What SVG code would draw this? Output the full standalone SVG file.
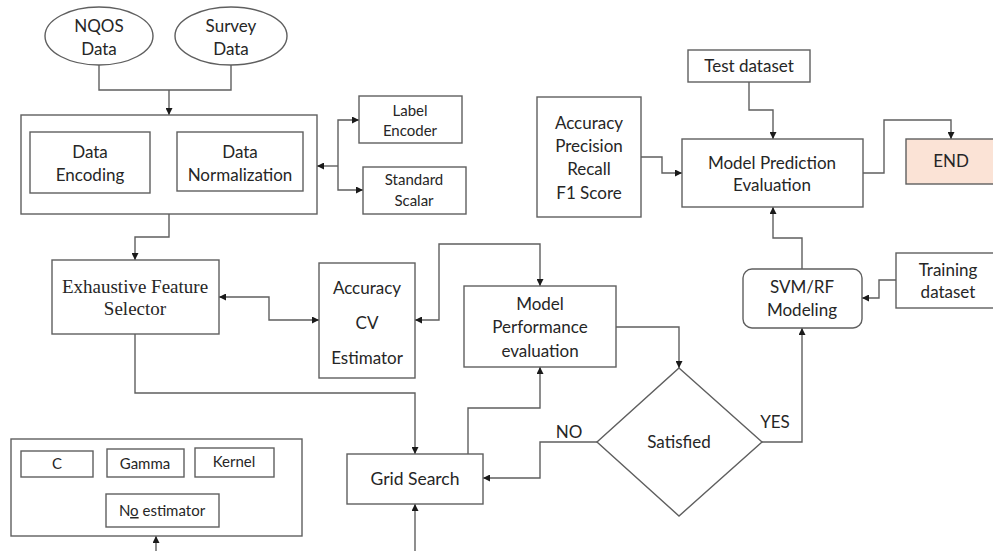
<svg xmlns="http://www.w3.org/2000/svg" width="993" height="551" viewBox="0 0 993 551">
  <style>
    .box { fill: #ffffff; stroke: #5f5f5f; stroke-width: 1.4; }
    .end { fill: #fbe3d6; stroke: #5f5f5f; stroke-width: 1.4; }
    .wire { fill: none; stroke: #5f5f5f; stroke-width: 1.4; }
    text { font-family: Lato, "Open Sans", "Liberation Sans", sans-serif; font-size: 17px; fill: #262626; text-anchor: middle; }
    .sm { font-size: 15px; }
    .serif { font-family: "Liberation Serif", "Times New Roman", serif; font-size: 19px; }
  </style>
  <defs>
    <marker id="arrow" viewBox="0 0 8 8" refX="8" refY="4" markerWidth="7" markerHeight="7" markerUnits="userSpaceOnUse" orient="auto-start-reverse">
      <path d="M0,0 L8,4 L0,8 z" fill="#1a1a1a"/>
    </marker>
  </defs>

  <rect width="993" height="551" fill="#ffffff"/>

  <!-- connectors -->
  <g id="connectors">
    <path class="wire" d="M99,65 V90 H231 V65"/>
    <path class="wire" d="M169,90 V115" marker-end="url(#arrow)"/>
    <path class="wire" d="M150,162 H177" marker-end="url(#arrow)"/>
    <path class="wire" d="M338,166 H317" marker-end="url(#arrow)"/>
    <path class="wire" d="M338,166 V120 H359" marker-end="url(#arrow)"/>
    <path class="wire" d="M338,166 V190 H363" marker-end="url(#arrow)"/>
    <path class="wire" d="M169,214 V237 H135 V260" marker-end="url(#arrow)"/>
    <path class="wire" d="M219,297 H269 V320 H319" marker-start="url(#arrow)" marker-end="url(#arrow)"/>
    <path class="wire" d="M540,286 V244 H439 V320 H415" marker-start="url(#arrow)" marker-end="url(#arrow)"/>
    <path class="wire" d="M135,334 V393 H415 V454" marker-end="url(#arrow)"/>
    <path class="wire" d="M468,454 V408 H540 V367" marker-end="url(#arrow)"/>
    <path class="wire" d="M616,327 H679 V368" marker-end="url(#arrow)"/>
    <path class="wire" d="M597,442 H540 V478 H483" marker-end="url(#arrow)"/>
    <path class="wire" d="M762,442 H802 V328" marker-end="url(#arrow)"/>
    <path class="wire" d="M802,269 V238 H773 V207" marker-end="url(#arrow)"/>
    <path class="wire" d="M896,280 H879 V298 H862" marker-end="url(#arrow)"/>
    <path class="wire" d="M749,82 V110 H773 V139" marker-end="url(#arrow)"/>
    <path class="wire" d="M641,157 H662 V173 H682" marker-end="url(#arrow)"/>
    <path class="wire" d="M863,173 H884 V120 H951 V139" marker-end="url(#arrow)"/>
    <path class="wire" d="M415,551 V504" marker-end="url(#arrow)"/>
    <path class="wire" d="M156,551 V536" marker-end="url(#arrow)"/>
  </g>

  <!-- data sources -->
  <g id="nqos">
    <ellipse class="box" cx="99" cy="36" rx="54" ry="29"/>
    <text x="99" y="32">NQOS</text>
    <text x="99" y="55">Data</text>
  </g>
  <g id="survey">
    <ellipse class="box" cx="231" cy="36" rx="56" ry="29"/>
    <text x="231" y="32">Survey</text>
    <text x="231" y="55">Data</text>
  </g>

  <!-- preprocessing block -->
  <g id="preprocessing">
    <rect class="box" x="21" y="115" width="296" height="99"/>
  </g>
  <g id="data-encoding">
    <rect class="box" x="30" y="132" width="120" height="61"/>
    <text x="90" y="158">Data</text>
    <text x="90" y="181">Encoding</text>
  </g>
  <g id="data-normalization">
    <rect class="box" x="177" y="132" width="126" height="59"/>
    <text x="240" y="158">Data</text>
    <text x="240" y="181">Normalization</text>
  </g>
  <g id="label-encoder">
    <rect class="box" x="359" y="96" width="103" height="47"/>
    <text class="sm" x="410" y="116">Label</text>
    <text class="sm" x="410" y="136">Encoder</text>
  </g>
  <g id="standard-scalar">
    <rect class="box" x="363" y="167" width="103" height="47"/>
    <text class="sm" x="414" y="185">Standard</text>
    <text class="sm" x="414" y="206">Scalar</text>
  </g>

  <!-- feature selection -->
  <g id="feature-selector">
    <rect class="box" x="52" y="260" width="167" height="74"/>
    <text class="serif" x="135" y="293">Exhaustive Feature</text>
    <text class="serif" x="135" y="315">Selector</text>
  </g>
  <g id="accuracy-cv">
    <rect class="box" x="319" y="263" width="96" height="115"/>
    <text x="367" y="294">Accuracy</text>
    <text x="367" y="329">CV</text>
    <text x="367" y="364">Estimator</text>
  </g>
  <g id="model-performance">
    <rect class="box" x="464" y="286" width="152" height="81"/>
    <text x="540" y="310">Model</text>
    <text x="540" y="333">Performance</text>
    <text x="540" y="357">evaluation</text>
  </g>

  <!-- hyper-parameter grid -->
  <g id="parameters">
    <rect class="box" x="11" y="439" width="291" height="97"/>
  </g>
  <g id="param-c">
    <rect class="box" x="21" y="451" width="72" height="26"/>
    <text class="sm" x="57" y="469">C</text>
  </g>
  <g id="param-gamma">
    <rect class="box" x="107" y="449" width="77" height="28"/>
    <text class="sm" x="145" y="469">Gamma</text>
  </g>
  <g id="param-kernel">
    <rect class="box" x="195" y="448" width="79" height="29"/>
    <text class="sm" x="234" y="467">Kernel</text>
  </g>
  <g id="param-estimator">
    <rect class="box" x="106" y="494" width="113" height="33"/>
    <text class="sm" x="162" y="516">N<tspan text-decoration="underline">o</tspan> estimator</text>
  </g>
  <g id="grid-search">
    <rect class="box" x="347" y="454" width="136" height="50"/>
    <text x="415" y="485" style="font-size:17.5px">Grid Search</text>
  </g>

  <!-- decision -->
  <g id="satisfied">
    <polygon class="box" points="679,368 762,442 679,516 597,442"/>
    <text x="679" y="448">Satisfied</text>
  </g>
  <g id="labels">
    <text x="569" y="438">NO</text>
    <text x="775" y="428">YES</text>
  </g>

  <!-- modelling and evaluation -->
  <g id="svm-rf">
    <rect class="box" x="743" y="269" width="119" height="59" rx="9" ry="9"/>
    <text x="802" y="293">SVM/RF</text>
    <text x="802" y="316">Modeling</text>
  </g>
  <g id="training-dataset">
    <rect class="box" x="896" y="253" width="105" height="55"/>
    <text x="948" y="276">Training</text>
    <text x="948" y="298">dataset</text>
  </g>
  <g id="test-dataset">
    <rect class="box" x="688" y="50" width="122" height="32"/>
    <text x="749" y="72">Test dataset</text>
  </g>
  <g id="metrics">
    <rect class="box" x="537" y="97" width="104" height="120"/>
    <text x="589" y="129">Accuracy</text>
    <text x="589" y="152">Precision</text>
    <text x="589" y="175">Recall</text>
    <text x="589" y="199">F1 Score</text>
  </g>
  <g id="model-prediction">
    <rect class="box" x="682" y="139" width="181" height="68"/>
    <text x="772" y="169">Model Prediction</text>
    <text x="772" y="191">Evaluation</text>
  </g>
  <g id="end">
    <rect class="end" x="906" y="139" width="100" height="45"/>
    <text x="951" y="167">END</text>
  </g>
</svg>
